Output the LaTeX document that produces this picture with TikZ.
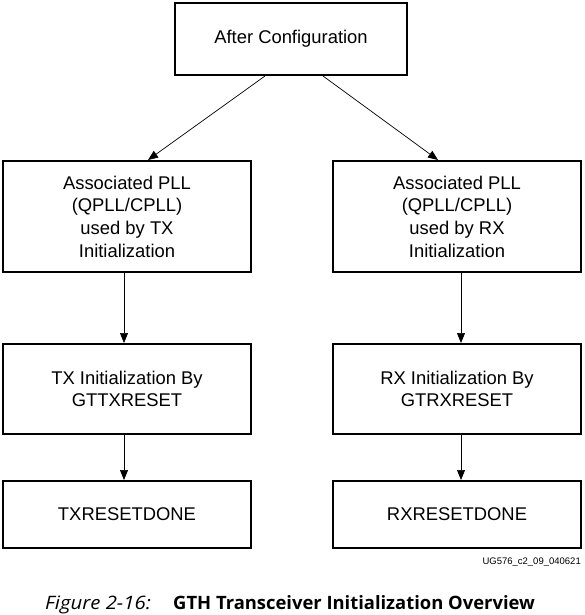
\documentclass[tikz,border=0pt]{standalone}
\usepackage{fontspec}
\setmainfont{Liberation Sans}
\newfontfamily\capfont{Open Sans}
\usetikzlibrary{arrows.meta}
\begin{document}
\begin{tikzpicture}[x=1pt,y=-1pt,
  box/.style={draw,line width=2pt,inner sep=0pt,align=center,
    font=\fontsize{18.4pt}{22.7pt}\selectfont,minimum width=248pt},
  arr/.style={line width=0.7pt,-{Triangle[length=10pt,width=8pt]}}]
\useasboundingbox (0,0) rectangle (585,615);
\node[box,minimum width=232pt,minimum height=72pt] (top) at (291,39) {After Configuration};
\node[box,minimum height=111pt] (l2) at (127,216.5) {Associated PLL\\(QPLL/CPLL)\\used by TX\\Initialization};
\node[box,minimum height=111pt] (r2) at (457,216.5) {Associated PLL\\(QPLL/CPLL)\\used by RX\\Initialization};
\node[box,minimum height=90pt] (l3) at (127,389) {TX Initialization By\\GTTXRESET};
\node[box,minimum height=90pt] (r3) at (457,389) {RX Initialization By\\GTRXRESET};
\node[box,minimum height=67pt] (l4) at (127,514.5) {TXRESETDONE};
\node[box,minimum height=67pt] (r4) at (457,514.5) {RXRESETDONE};
\draw[arr] ([xshift=-26pt]top.south) -- ([xshift=21pt]l2.north);
\draw[arr] ([xshift=32pt]top.south) -- ([xshift=-19pt]r2.north);
\draw[arr] ([xshift=-3pt]l2.south) -- ([xshift=-3pt]l3.north);
\draw[arr] ([xshift=4pt]r2.south) -- ([xshift=4pt]r3.north);
\draw[arr] ([xshift=-3pt]l3.south) -- ([xshift=-3pt]l4.north);
\draw[arr] ([xshift=4pt]r3.south) -- ([xshift=4pt]r4.north);
\node[anchor=east,inner sep=0pt,font=\fontsize{9.5pt}{11pt}\selectfont] (id) at (581,562) {UG576\_c2\_09\_040621};
\node[anchor=base west,inner sep=0pt,font=\capfont\fontsize{18.5pt}{20pt}\selectfont\itshape] (fig) at (45,609) {\scalebox{1.1}[1]{Figure 2-16:}};
\node[anchor=base west,inner sep=0pt,font=\capfont\fontsize{18.4pt}{20pt}\selectfont\bfseries] (cap) at (173,609) {GTH Transceiver Initialization Overview};
\end{tikzpicture}
\end{document}
